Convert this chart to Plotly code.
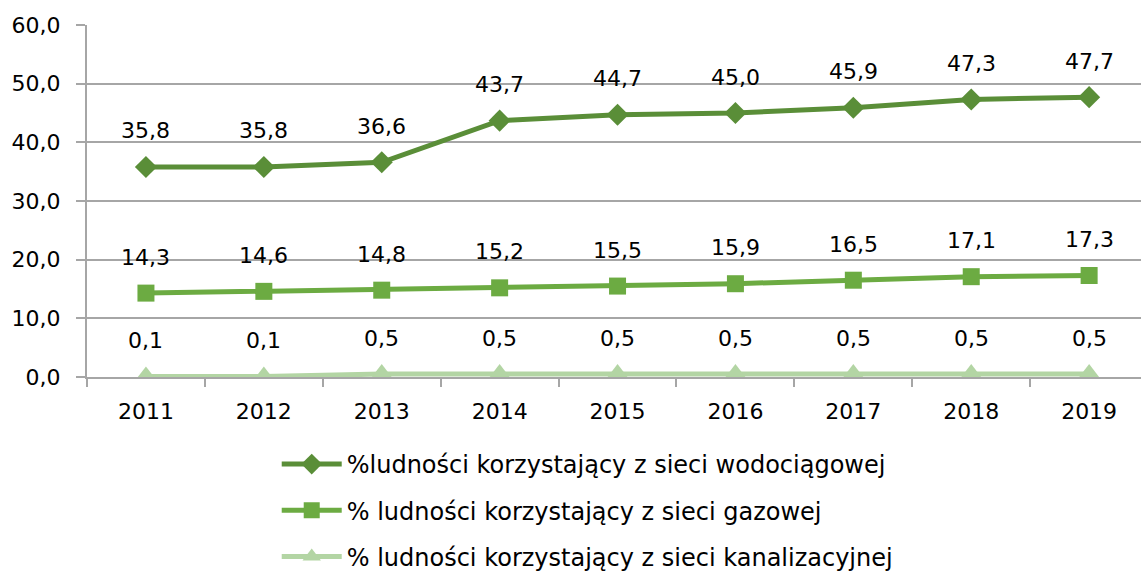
import plotly.graph_objects as go

years = ["2011", "2012", "2013", "2014", "2015", "2016", "2017", "2018", "2019"]
water = [35.8, 35.8, 36.6, 43.7, 44.7, 45.0, 45.9, 47.3, 47.7]
gas = [14.3, 14.6, 14.8, 15.2, 15.5, 15.9, 16.5, 17.1, 17.3]
sewer = [0.1, 0.1, 0.5, 0.5, 0.5, 0.5, 0.5, 0.5, 0.5]

names = [
    "%ludności korzystający z sieci wodociągowej",
    "% ludności korzystający z sieci gazowej",
    "% ludności korzystający z sieci kanalizacyjnej",
]
colors = ["#5a8e38", "#6cab42", "#b3d5a4"]
symbols = ["diamond", "square", "triangle-up"]
sizes = [17, 17, 20]

FONT = "DejaVu Sans, sans-serif"

fig = go.Figure()
for i, series in enumerate([water, gas, sewer]):
    fig.add_trace(go.Scatter(
        x=years, y=series, name=names[i], mode="lines+markers",
        line=dict(color=colors[i], width=5),
        marker=dict(symbol=symbols[i], size=sizes[i], color=colors[i]),
        legendgroup=f"g{i}",
    ))
    # value labels above each point
    for k, v in enumerate(series):
        fig.add_annotation(
            x=k, y=v, xref="x", yref="y",
            text=f"{v:.1f}".replace(".", ","), showarrow=False,
            yshift=36, font=dict(family=FONT, size=22, color="#000000"),
        )

fig.update_layout(
    width=1141, height=577,
    margin=dict(l=87, r=0, t=25, b=200, autoexpand=False),
    paper_bgcolor="white", plot_bgcolor="white",
    separators=", ",
    font=dict(family=FONT, size=22, color="#000000"),
    showlegend=True,
    legend=dict(
        orientation="v", x=0.18, xanchor="left",
        yref="container", y=0.234, yanchor="top",
        traceorder="grouped", tracegroupgap=12,
        font=dict(family=FONT, size=24, color="#000000"),
        itemwidth=60,
    ),
)
fig.update_xaxes(
    type="category", range=[-0.5, 8.44],
    showgrid=False, showline=True, linecolor="#a6a6a6", linewidth=2,
    ticks="outside", tickson="boundaries", ticklen=8, tickcolor="#a6a6a6", tickwidth=2,
    ticklabelstandoff=14,
)
fig.update_yaxes(
    range=[0, 60], dtick=10, tickformat=".1f",
    showgrid=True, gridcolor="#a6a6a6", gridwidth=2,
    showline=True, linecolor="#a6a6a6", linewidth=2,
    ticks="outside", ticklen=9, tickcolor="#a6a6a6", tickwidth=2,
    ticklabelstandoff=11, zeroline=False,
)

fig.write_html("out.html")
